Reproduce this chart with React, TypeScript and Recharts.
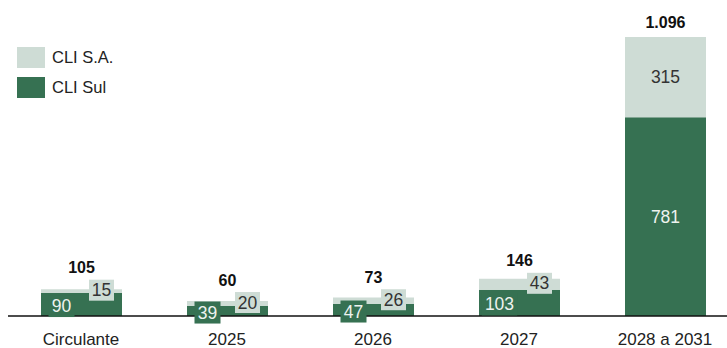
import React from 'react';
import { BarChart, Bar, XAxis, YAxis, LabelList } from 'recharts';

const DARK = '#367152';
const LIGHT = '#cedcd5';
const FONT = "'Liberation Sans', Arial, sans-serif";

const categories = ['Circulante', '2025', '2026', '2027', '2028 a 2031'];
const cliSul = [90, 39, 47, 103, 781];
const cliSA = [15, 20, 26, 43, 315];
// totals as printed in the source (rounded there, so not always sul + sa)
const totals = ['105', '60', '73', '146', '1.096'];
const seriesNames = ['CLI S.A.', 'CLI Sul'];

const data = categories.map((name, i) => ({ name, sul: cliSul[i], sa: cliSA[i] }));

// Everything is drawn from the top (S.A.) segment, so the boxes sit above both bars
const SegmentLabels = (props: any) => {
  const vb = props.viewBox ?? props;
  const x = vb.x ?? props.x;
  const y = vb.y ?? props.y;
  const width = vb.width ?? props.width;
  const height = vb.height ?? props.height;
  const i = props.index;
  const sul = cliSul[i];
  const sa = cliSA[i];
  const ratio = height / sa;
  const sulH = sul * ratio;
  const cx = x + width / 2;
  const saCy = y + height / 2;
  const sulCy = y + height + sulH / 2;
  const small = sulH + height < 60;

  if (!small) {
    return (
      <g fontFamily={FONT}>
        <text x={cx} y={saCy} textAnchor="middle" dominantBaseline="central" fontSize={17.5} fill="#333">{sa}</text>
        <text x={cx} y={sulCy} textAnchor="middle" dominantBaseline="central" fontSize={17.5} fill="#eef3ef">{sul}</text>
        <text x={cx} y={y - 15} textAnchor="middle" dominantBaseline="central" fontSize={16} fontWeight="bold" fill="#111">{totals[i]}</text>
      </g>
    );
  }

  const sulW = String(sul).length * 9.5 + 7;
  const saW = String(sa).length * 9.5 + 6;
  const saBoxY = saCy - 11.5;
  const sulBoxY = sulCy - 9.5;
  const top = Math.min(saBoxY, y);
  return (
    <g fontFamily={FONT}>
      <rect x={cx - 20 - sulW / 2} y={sulBoxY} width={sulW} height={22} fill={DARK} />
      <text x={cx - 20} y={sulCy + 1.5} textAnchor="middle" dominantBaseline="central" fontSize={17.5} fill="#eef3ef">{sul}</text>
      <rect x={cx + 20 - saW / 2} y={saBoxY} width={saW} height={21} fill={LIGHT} />
      <text x={cx + 20} y={saCy - 1} textAnchor="middle" dominantBaseline="central" fontSize={17.5} fill="#333">{sa}</text>
      <text x={cx} y={top - 12} textAnchor="middle" dominantBaseline="central" fontSize={16} fontWeight="bold" fill="#111">{totals[i]}</text>
    </g>
  );
};

const LegendBox = () => (
  <div style={{ position: 'absolute', left: 17, top: 47, fontFamily: FONT, fontSize: 16.5, color: '#222' }}>
    {seriesNames.map((n, i) => (
      <div key={n} style={{ display: 'flex', alignItems: 'center', height: 21, marginBottom: 9 }}>
        <div style={{ width: 28, height: 21, background: i === 0 ? LIGHT : DARK, marginRight: 7 }} />
        <span>{n}</span>
      </div>
    ))}
  </div>
);

export default function App() {
  return (
    <div style={{ position: 'absolute', left: 0, top: 0, width: 727, height: 348, overflow: 'hidden', background: '#fff' }}>
      <div style={{ position: 'absolute', left: 8, top: 0 }}>
        <BarChart width={730} height={348} data={data} margin={{ top: 37, right: 0, left: 0, bottom: 0 }} barSize={81}>
          <XAxis
            dataKey="name"
            height={32}
            axisLine={{ stroke: '#111', strokeWidth: 1.3 }}
            tickLine={false}
            tickMargin={11}
            tick={{ fontSize: 17, fill: '#222', fontFamily: FONT }}
            interval={0}
          />
          <YAxis hide domain={[0, 1096]} />
          <Bar dataKey="sul" stackId="a" fill={DARK} isAnimationActive={false} />
          <Bar dataKey="sa" stackId="a" fill={LIGHT} isAnimationActive={false}>
            <LabelList dataKey="sa" content={SegmentLabels} />
          </Bar>
        </BarChart>
      </div>
      <LegendBox />
    </div>
  );
}
